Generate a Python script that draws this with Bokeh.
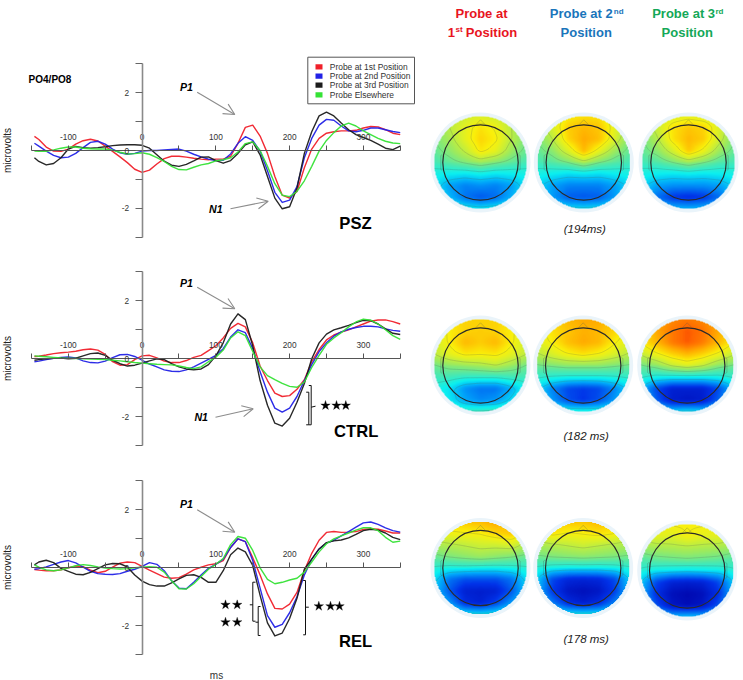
import numpy as np
from bokeh.core.properties import value
from bokeh.embed import file_html
from bokeh.layouts import column, row
from bokeh.models import (Arrow, FixedTicker, LinearAxis, LinearColorMapper, OpenHead, Range1d)
from bokeh.plotting import figure
from bokeh.resources import INLINE

# ---------- data ----------
MS = [-146, -140] + list(range(-130, 351, 10))

PSZ_RED = [.49,.38,.12,-.02,-.03,.05,.22,.34,.39,.33,.15,-.03,-.22,-.42,-.65,-.76,-.68,-.47,-.28,-.2,-.2,-.23,-.27,-.3,-.32,-.3,-.3,-.2,.25,.8,.88,.5,-.1,-.9,-1.55,-1.65,-1.42,-.6,.05,.42,.6,.65,.68,.68,.7,.78,.83,.82,.72,.6,.55]
PSZ_BLUE = [.25,.15,-.02,-.17,-.25,-.23,-.1,.1,.28,.32,.22,.05,-.08,-.13,-.1,-.02,0,0,.02,.04,.05,-.02,-.13,-.22,-.3,-.35,-.34,-.12,.25,.48,.35,-.02,-.7,-1.45,-1.8,-1.72,-1.25,-.25,.42,.88,1.08,1.05,.85,.68,.65,.7,.78,.78,.72,.66,.62]
PSZ_BLACK = [-.25,-.38,-.5,-.45,-.25,.05,.14,.1,.08,.1,.13,.17,.19,.2,.2,.18,.08,-.15,-.37,-.51,-.55,-.48,-.36,-.23,-.22,-.35,-.44,-.35,-.1,.2,.3,-.15,-.9,-1.65,-2.02,-1.95,-1.3,-.1,.65,1.2,1.33,1.2,.95,.72,.55,.45,.35,.22,.08,.03,.15]
PSZ_GREEN = [-.02,-.03,-.03,.02,.08,.12,.12,.08,.06,.05,.05,.01,-.06,-.12,-.11,-.08,-.13,-.25,-.38,-.55,-.66,-.67,-.58,-.5,-.45,-.36,-.32,-.25,-.05,.24,.3,0,-.55,-1.15,-1.55,-1.6,-1.42,-1.05,-.55,-.02,.35,.62,.85,.95,.85,.68,.55,.42,.32,.26,.24]

CTRL_RED = [.08,.09,.13,.18,.21,.23,.26,.31,.34,.3,.15,-.1,-.22,-.2,-.03,.1,.12,.03,-.08,-.13,-.13,-.06,.05,.12,.28,.45,.72,1.05,1.22,1.1,.55,-.25,-.75,-1.18,-1.3,-1.27,-1.05,-.72,-.1,.32,.65,.82,.92,1.0,1.1,1.2,1.3,1.34,1.34,1.28,1.2]
CTRL_BLUE = [-.1,-.08,-.03,.02,.05,.06,.03,-.07,-.13,-.14,-.08,.04,.14,.15,.08,-.05,-.18,-.28,-.38,-.43,-.44,-.38,-.28,-.15,-.02,.12,.35,.75,1.0,.9,.35,-.45,-1.15,-1.7,-1.84,-1.7,-1.3,-.75,-.2,.25,.55,.78,.93,1.02,1.08,1.12,1.12,1.1,1.03,.98,.95]
CTRL_BLACK = [-.05,-.03,0,.02,.03,0,.02,.1,.18,.2,.12,-.05,-.17,-.25,-.22,-.15,-.07,0,-.03,-.17,-.28,-.35,-.38,-.35,-.2,.1,.55,1.2,1.55,1.35,.45,-.75,-1.6,-2.22,-2.32,-2.05,-1.5,-.85,0,.55,.85,1.0,1.07,1.15,1.25,1.33,1.32,1.2,1.03,.88,.84]
CTRL_GREEN = [.1,.09,.07,.05,.03,.02,.01,0,-.01,-.02,-.03,-.05,-.07,-.1,-.13,-.15,-.17,-.19,-.2,-.21,-.25,-.3,-.34,-.28,-.1,.05,.3,.72,.93,.8,.25,-.28,-.58,-.72,-.85,-.95,-.98,-.8,-.3,.12,.5,.72,.9,1.1,1.27,1.37,1.33,1.2,1.0,.8,.67]

REL_RED = [-.06,-.08,-.1,-.1,-.07,0,.06,.04,-.08,-.17,-.12,.02,.16,.2,.18,.05,-.08,-.2,-.32,-.36,-.34,-.22,-.07,.02,.1,.14,.25,.7,1.0,.9,.35,-.25,-.9,-1.4,-1.42,-1.25,-.85,-.1,.5,.95,1.22,1.25,1.22,1.23,1.25,1.32,1.35,1.33,1.27,1.2,1.2]
REL_BLUE = [-.05,-.03,.03,.12,.2,.25,.17,.02,-.12,-.2,-.22,-.23,-.2,-.12,-.05,.05,.18,.12,-.1,-.45,-.7,-.72,-.5,-.25,-.02,.12,.3,.7,1.0,.9,.25,-.7,-1.65,-2.05,-1.95,-1.55,-1.0,-.25,.3,.65,.85,.95,1.1,1.25,1.4,1.55,1.58,1.5,1.38,1.28,1.23]
REL_BLACK = [.1,.2,.26,.18,-.02,-.12,-.22,-.24,-.16,-.03,.1,.15,.14,.03,-.25,-.46,-.58,-.63,-.63,-.52,-.38,-.26,-.24,-.33,-.5,-.5,-.1,.45,.68,.55,.08,-.95,-1.9,-2.35,-2.25,-1.75,-1.05,-.05,.3,.65,.87,.93,.96,1.03,1.15,1.28,1.33,1.3,1.2,1.05,.97]
REL_GREEN = [.1,.02,-.07,-.1,-.07,0,.07,.11,.08,.03,-.01,-.03,-.04,-.03,0,.02,.04,.02,-.15,-.45,-.72,-.73,-.55,-.3,-.05,.12,.32,.8,1.08,1.02,.6,0,-.4,-.55,-.5,-.42,-.36,-.15,.2,.55,.83,1.0,1.1,1.2,1.3,1.38,1.38,1.28,1.05,.88,.92]

LEGEND_LABELS = ["Probe at 1st Position", "Probe at 2nd Position", "Probe at 3rd Position", "Probe Elsewhere"]
X_TICKS = [-150, -100, -50, 0, 50, 100, 150, 200, 250, 300, 350]
X_TICK_LABELS = {-100: "-100", 0: "0", 100: "100", 200: "200", 300: "300"}
Y_TICKS = [-3, -2, -1, 0, 1, 2, 3]
Y_TICK_LABELS = {-2: "-2", 0: "0", 2: "2"}

# scalp fields, 9 rows (front to back) x 7 columns (left to right)
H11 = [[6.5,6.5,6.8,7,6.8,6.5,6.5],[5.5,6.5,7.2,7.8,7.4,6.5,5.5],[5.5,6.2,7.2,8,7.6,6.5,5.5],[5.2,5.8,6.6,7.7,7.2,6,5.2],[4.8,5.2,5.6,6,5.6,5.2,4.8],[4.2,4,3.9,4.1,3.9,4,4.2],[3.9,3,2.6,2.8,2.6,3,3.9],[4.2,3.3,2.4,2,2.3,3.2,4.2],[4.9,4.5,4.1,3.9,4.1,4.5,4.9]]
H12 = [[6.8,7,7.6,7.8,7.8,7,6.8],[6,7,8.1,8.4,8.2,7.2,6],[5.5,6.5,8,8.6,8.3,7,5.5],[5.2,5.8,7,8.4,7.2,6,5.2],[4.8,5.1,5.5,6.2,5.5,5.1,4.8],[4.2,4,3.8,3.9,3.8,4,4.2],[3.7,3,2.6,2.6,2.6,3,3.7],[4,2.9,2.1,2,2.1,2.9,4],[4.7,4.3,3.9,3.8,3.9,4.3,4.7]]
H13 = [[6.5,6.8,7,7.2,7,6.8,6.5],[5.8,6.8,7.8,8.2,8,7,5.8],[5.4,6.4,7.8,8.4,8.1,6.8,5.4],[5.2,5.8,6.9,8.2,7.3,6,5.2],[4.8,5,5.5,6,5.5,5,4.8],[4.2,4,3.9,4,3.9,4,4.2],[3.7,3,2.8,2.8,2.8,3,3.7],[3.6,2.3,1.5,1.3,1.5,2.3,3.6],[4.5,3.9,3.4,3.3,3.4,3.9,4.5]]
H21 = [[7.5,7.8,8,8,8,7.8,7.5],[7,7.6,8,8.1,8,7.6,7],[6.8,7.6,8.4,8.1,8.4,7.6,6.8],[6.5,7.2,7.7,7.6,7.7,7.2,6.5],[5.4,5.8,6,6.2,6.5,6,5.4],[4.8,4.8,4.6,4.6,4.6,4.8,4.8],[4.3,3.8,2.8,2.4,2.4,3.2,4.3],[4.5,3.9,3.1,2.7,2.9,3.7,4.5],[5.3,4.9,4.7,4.8,4.9,5.1,5.3]]
H22 = [[7.6,8,8.4,8.6,8.6,8.2,7.6],[7.2,7.8,8.2,8.5,8.4,8,7.2],[7,7.6,8.3,8.6,8.4,7.6,7],[6.4,7,7.5,7.8,7.5,7,6.4],[5.4,5.6,5.8,5.8,5.8,5.6,5.4],[4.6,4.4,4.3,4.3,4.3,4.4,4.6],[3.8,2.6,1.8,1.6,1.8,2.6,3.8],[4.1,2.9,1.9,1.5,1.9,2.9,4.1],[5,4.6,4.4,4.4,4.4,4.6,5]]
H23 = [[8,8.6,9,9.2,9,8.6,8],[7.8,8.6,9.2,9.6,9.3,8.6,7.8],[7.6,8.4,9.2,9.6,9.2,8.4,7.6],[6.6,7.4,8,8.4,8,7.4,6.6],[5.4,5.8,6.6,7,6.6,5.8,5.4],[4.6,4.2,4.1,4.1,4.1,4.2,4.6],[3.4,1.8,1,1,1,1.8,3.4],[3.8,2.1,.9,.7,.9,2.1,3.8],[4.8,4,3.8,4,3.8,4,4.8]]
H31 = [[7.6,8,8.2,8.4,8.6,8.2,7.4],[7,7.4,7.5,7.6,8,8.2,7.2],[6.2,6.4,6.6,6.8,6.8,7,6.2],[5.3,5.6,5.8,6,5.8,5.6,5.3],[4.4,4.2,4.2,4.1,4.1,4.2,4.4],[3.8,2.4,1.9,1.9,1.9,2.4,3.8],[3.6,2,1,.9,1,2,3.6],[4,2.9,1.3,1,1.7,2.9,4],[5,4.6,4,3.9,4,4.6,5]]
H32 = [[7.6,8,8.2,8.2,8.4,8,7.4],[7,7.8,7.5,7.6,7.8,7.6,7],[6.2,6.4,6.6,6.8,6.6,6.4,6.2],[5.4,5.6,5.7,5.8,5.7,5.6,5.4],[4.4,4.1,4,4,4,4.1,4.4],[3.6,1.8,1.2,1.1,1.2,1.8,3.6],[3.4,1.6,.7,.5,.7,1.6,3.4],[3.8,2.5,1.3,.9,1.3,2.5,3.8],[5,4.4,4,4,4,4.4,5]]
H33 = [[7,7.4,7.6,7.6,7.6,7.4,7],[6.8,7.2,7.1,7.5,7.2,7.2,6.8],[6,6.2,6.3,6.4,6.3,6.2,6],[5,5.3,5.4,5.5,5.4,5.3,5],[4.4,4,3.9,3.8,3.9,4,4.4],[3.6,1.8,1.1,1,1.1,1.8,3.6],[3.3,1.4,.5,.3,.5,1.4,3.3],[3.4,1.9,.7,.4,.7,1.9,3.4],[4.6,4,3.4,3.5,3.4,4,4.6]]

TIMES = ["(194ms)", "(182 ms)", "(178 ms)"]

# ---------- styles ----------
FONT = value("Liberation Sans")
COLORS = ["#f0202a", "#2222e6", "#1c1c1c", "#35e235"]
LEFT_W, RIGHT_W = 420, 323
X0_PX, PX_PER_MS = 141.6, 0.7375


def make_panel(top, bottom, zero, unit, series, ylabel_y):
    """top/bottom are page-pixel edges of the panel, zero the page y of 0 microvolts."""
    h = bottom - top
    dx = lambda px: (px - X0_PX) / PX_PER_MS
    dy = lambda py: (zero - py) / unit
    p = figure(width=LEFT_W, height=h, x_axis_type=None, y_axis_type=None,
               x_range=Range1d(dx(0), dx(LEFT_W)),
               y_range=Range1d(dy(bottom), dy(top)),
               toolbar_location=None, output_backend="svg", min_border=0,
               outline_line_color=None, background_fill_color="white")
    p.grid.visible = False

    xa = LinearAxis(ticker=FixedTicker(ticks=X_TICKS), fixed_location=0, bounds=(-150, 350),
                    major_label_overrides={t: X_TICK_LABELS.get(t, "") for t in X_TICKS},
                    major_tick_in=0, major_tick_out=5, major_label_standoff=6,
                    axis_line_color="#555555", major_tick_line_color="#555555", axis_line_width=1.2,
                    major_label_text_font="Liberation Sans", major_label_text_font_size="8.3px",
                    major_label_text_color="#333333")
    ya = LinearAxis(ticker=FixedTicker(ticks=Y_TICKS), fixed_location=0, bounds=(-3, 3),
                    major_label_overrides={t: Y_TICK_LABELS.get(t, "") for t in Y_TICKS},
                    major_tick_in=0, major_tick_out=7, major_label_standoff=6,
                    axis_line_color="#8a8a8a", major_tick_line_color="#666666", axis_line_width=1.6,
                    major_label_text_font="Liberation Sans", major_label_text_font_size="8.3px",
                    major_label_text_color="#333333")
    p.add_layout(xa, "above")
    p.add_layout(ya, "left")

    for vals, c in zip(series, COLORS):
        p.line(MS, vals, line_color=c, line_width=1.4, line_alpha=0.95, line_join="round")

    p.text(x=[dx(7)], y=[dy(ylabel_y)], text=["microvolts"], angle=np.pi / 2, text_font=FONT,
           text_font_size="10px", text_align="center", text_baseline="middle", text_color="#222222")
    return p, dx, dy


def label(p, x, y, txt, size, style="bold", color="#000000"):
    p.text(x=[x], y=[y], text=[txt], text_font=FONT, text_font_size=size, text_font_style=style,
           text_align="center", text_baseline="middle", text_color=color)


def arrow(p, x0, y0, x1, y1):
    p.add_layout(Arrow(end=OpenHead(size=11, line_color="#8c8c8c", line_width=1.1),
                       x_start=x0, y_start=y0, x_end=x1, y_end=y1,
                       line_color="#8c8c8c", line_width=1.1))


def stars(p, xs, ys):
    p.scatter(xs, ys, marker="star", size=10, fill_color="#000000", line_color="#000000", line_width=0.3)


def brackets(p, dx, dy, segs):
    p.multi_line([[dx(a[0]) for a in s] for s in segs], [[dy(a[1]) for a in s] for s in segs],
                 line_color="#111111", line_width=1)


# ---------- panel 1 ----------
p1, dx, dy = make_panel(0, 254, 150, 28.85, [PSZ_RED, PSZ_BLUE, PSZ_BLACK, PSZ_GREEN], 150)
label(p1, dx(49.5), dy(78.5), "PO4/PO8", "10px")
label(p1, dx(186), dy(86), "P1", "10.6px", "bold italic")
label(p1, dx(215.3), dy(208.3), "N1", "10.6px", "bold italic")
label(p1, dx(355), dy(223), "PSZ", "16.6px")
arrow(p1, dx(196.7), dy(91.7), dx(234.3), dy(114))
arrow(p1, dx(230), dy(208.3), dx(267.7), dy(200.7))
# legend box
p1.quad(left=[dx(307.3)], right=[dx(414)], top=[dy(56.7)], bottom=[dy(103.3)],
        fill_color="white", line_color="#555555", line_width=1)
for c, t, y in zip(COLORS, LEGEND_LABELS, [66.3, 75.7, 84.7, 94.3]):
    p1.quad(left=[dx(315)], right=[dx(322)], top=[dy(y - 2.6)], bottom=[dy(y + 2.6)], fill_color=c, line_color=None)
    p1.text(x=[dx(329.3)], y=[dy(y)], text=[t], text_font=FONT, text_font_size="8.45px",
            text_align="left", text_baseline="middle", text_color="#333333")

# ---------- panel 2 ----------
p2, dx, dy = make_panel(254, 462, 358.3, 29, [CTRL_RED, CTRL_BLUE, CTRL_BLACK, CTRL_GREEN], 358)
label(p2, dx(186), dy(282), "P1", "10.6px", "bold italic")
label(p2, dx(200.7), dy(416.7), "N1", "10.6px", "bold italic")
label(p2, dx(355.7), dy(431), "CTRL", "16.6px")
arrow(p2, dx(196.7), dy(286.7), dx(234.3), dy(308.3))
arrow(p2, dx(215), dy(416.7), dx(252.7), dy(408.3))
brackets(p2, dx, dy, [
    [(308.3, 385), (310.7, 385), (310.7, 424.3), (308.3, 424.3)],
    [(305.7, 391.7), (308.3, 391.7), (308.3, 424.3), (305.7, 424.3)],
    [(310.7, 406.7), (315, 405.7)],
])
stars(p2, [dx(325), dx(336), dx(345.3)], [dy(405)] * 3)

# ---------- panel 3 ----------
p3, dx, dy = make_panel(462, 680, 567.3, 29, [REL_RED, REL_BLUE, REL_BLACK, REL_GREEN], 567)
label(p3, dx(186), dy(503.3), "P1", "10.6px", "bold italic")
label(p3, dx(355), dy(640.7), "REL", "16.6px")
label(p3, dx(216), dy(675), "ms", "10px", "normal", "#333333")
arrow(p3, dx(196.7), dy(509.3), dx(234.3), dy(531.7))
brackets(p3, dx, dy, [
    [(255, 581.7), (252.3, 581.7), (252.3, 620.7), (255, 620.7)],
    [(260, 606), (257.7, 606), (257.7, 635), (260, 635)],
    [(302.7, 580), (305, 580), (305, 634.3), (302.7, 634.3)],
    [(249.3, 604.3), (252.3, 604.3)],
    [(255, 621.7), (257.7, 621.7)],
    [(305, 606.7), (308.3, 606.7)],
])
stars(p3, [dx(225), dx(236.7), dx(225), dx(236.7), dx(318.3), dx(330), dx(339)],
      [dy(604.3), dy(604.3), dy(621.7), dy(621.7), dy(605.7), dy(605.7), dy(605.7)])

# ---------- scalp maps ----------
stops_v = [0, 1.5, 3, 4, 5, 6, 7, 7.6, 8.5, 9.5, 10]
stops_c = [(0, 0, 165), (0, 50, 232), (0, 160, 250), (10, 240, 240), (80, 232, 170), (155, 234, 95),
           (218, 240, 40), (250, 240, 10), (255, 178, 0), (255, 100, 0), (240, 30, 0)]
grid_v = np.linspace(0, 10, 256)
palette = ["#%02x%02x%02x" % tuple(int(round(np.interp(v, stops_v, [c[i] for c in stops_c]))) for i in range(3))
           for v in grid_v]
mapper = LinearColorMapper(palette=palette, low=0, high=10, nan_color=(0, 0, 0, 0))

right = figure(width=RIGHT_W, height=680, x_axis_type=None, y_axis_type=None,
               x_range=Range1d(420, 743), y_range=Range1d(0, 680),
               toolbar_location=None, output_backend="svg", min_border=0, outline_line_color=None)
right.grid.visible = False
py = lambda y: 680 - y


def head(cx, cy, field, R=47.0, r=37.7):
    f = np.array(field, dtype=float)[::-1]   # image rows run bottom-up
    n = 95
    u = np.linspace(-1, 1, n)
    su, sv = np.linspace(-1, 1, f.shape[1]), np.linspace(-1, 1, f.shape[0])
    tmp = np.array([np.interp(u, su, row_) for row_ in f])
    z = np.array([np.interp(u, sv, tmp[:, j]) for j in range(n)]).T
    k = np.ones(5) / 5
    pad = np.pad(z, 2, mode="edge")
    pad = np.apply_along_axis(lambda a: np.convolve(a, k, mode="same"), 0, pad)
    pad = np.apply_along_axis(lambda a: np.convolve(a, k, mode="same"), 1, pad)
    z = pad[2:-2, 2:-2]
    xx, yy = np.meshgrid(u, u)
    mask = xx ** 2 + yy ** 2 > 1.0
    img = z.copy()
    img[mask] = np.nan
    right.circle([cx], [py(cy)], radius=R + 3, fill_color="#eaf4fa", line_color=None)
    right.image(image=[img], x=cx - R, y=py(cy) - R, dw=2 * R, dh=2 * R, color_mapper=mapper)
    right.contour(cx + u * R, py(cy) + u * R, np.ma.masked_where(mask, z), levels=[3.5, 4.5, 5.5, 6.5, 7.5],
                  line_color="#4d5a55", line_alpha=0.3, line_width=0.7)
    # nose and ears of the head outline
    right.multi_line([[cx - 4.5, cx, cx + 4.5], [cx - r - 0.5, cx - r - 2, cx - r - 2, cx - r - 0.5],
                      [cx + r + 0.5, cx + r + 2, cx + r + 2, cx + r + 0.5]],
                     [[py(cy - r - 0.3), py(cy - r - 5), py(cy - r - 0.3)],
                      [py(cy - 8), py(cy - 7), py(cy + 7), py(cy + 8)],
                      [py(cy - 8), py(cy - 7), py(cy + 7), py(cy + 8)]],
                     line_color="#4d5a55", line_alpha=0.4, line_width=0.7)
    right.circle([cx], [py(cy)], radius=R + 0.8, fill_color=None, line_color="#eaf4fa", line_width=2)
    right.circle([cx], [py(cy)], radius=r, fill_color=None, line_color="#2a2a2a", line_width=1.2)


for cx, field in zip([480, 583.3, 688], [H11, H12, H13]):
    head(cx, 162, field)
for cx, field in zip([480, 582.7, 686.7], [H21, H22, H23]):
    head(cx, 365, field)
for cx, cy, field in zip([480, 582.7, 686.7], [567.5, 567.5, 570], [H31, H32, H33]):
    head(cx, cy, field)


def rtext(x, y, txt, size, color, align="center", style="bold"):
    right.text(x=[x], y=[py(y)], text=[txt], text_font=FONT, text_font_size=size, text_font_style=style,
               text_align=align, text_baseline="middle", text_color=color)


RED, BLUE, GREEN = "#e8141e", "#1a75bb", "#14a858"
rtext(481, 13.3, "Probe at", "13px", RED)
rtext(447.3, 32, "1", "13px", RED, "left")
rtext(455, 29, "st", "8px", RED, "left")
rtext(491, 32, "Position", "13px", RED)
rtext(549.3, 13.3, "Probe at 2", "13px", BLUE, "left")
rtext(613.3, 10.5, "nd", "8px", BLUE, "left")
rtext(585.7, 32, "Position", "13px", BLUE)
rtext(651.7, 13.3, "Probe at 3", "13px", GREEN, "left")
rtext(715, 10.5, "rd", "8px", GREEN, "left")
rtext(686.7, 32, "Position", "13px", GREEN)
for x, y, t in zip([584.3, 585.7, 585.7], [228.3, 435.7, 638.3], TIMES):
    rtext(x, y, t, "11.5px", "#222222", style="italic")

layout = row(column(p1, p2, p3, spacing=0), right, spacing=0)
open("out.html", "w").write(file_html(layout, INLINE))
